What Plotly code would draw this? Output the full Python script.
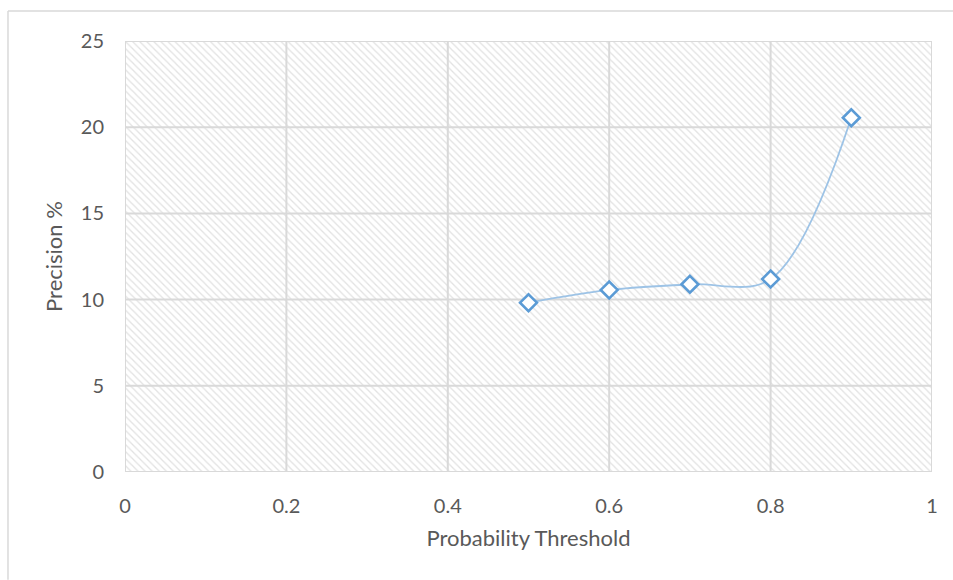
import plotly.graph_objects as go

# Precision at each probability threshold
thresholds = [0.5, 0.6, 0.7, 0.8, 0.9]
precision = [9.82, 10.56, 10.89, 11.19, 20.55]

x_range = [0, 1]
y_range = [0, 25]
x_ticks = [0, 0.2, 0.4, 0.6, 0.8, 1]
x_tick_labels = ["0", "0.2", "0.4", "0.6", "0.8", "1"]
y_ticks = [0, 5, 10, 15, 20, 25]

grid_color = "#d9d9d9"
text_color = "#595959"
font_family = "Lato, 'Open Sans', sans-serif"

fig = go.Figure()

# Hatched plot-area background
fig.add_trace(go.Scatter(
    x=[x_range[0], x_range[1], x_range[1], x_range[0], x_range[0]],
    y=[y_range[0], y_range[0], y_range[1], y_range[1], y_range[0]],
    mode="none",
    fill="toself",
    fillcolor="rgba(255,255,255,0)",
    fillpattern=dict(shape="\\", size=5, solidity=0.25,
                     fgcolor="#e2e2e2", bgcolor="white", fillmode="replace"),
    hoverinfo="skip",
    showlegend=False,
))

# Gridlines on top of the hatch, beneath the data
gx, gy = [], []
for t in x_ticks:
    gx += [t, t, None]
    gy += [y_range[0], y_range[1], None]
for t in y_ticks:
    gx += [x_range[0], x_range[1], None]
    gy += [t, t, None]
fig.add_trace(go.Scatter(
    x=gx, y=gy, mode="lines",
    line=dict(color=grid_color, width=2),
    hoverinfo="skip", showlegend=False,
))

# Smoothed line with open diamond markers
fig.add_trace(go.Scatter(
    x=thresholds,
    y=precision,
    mode="lines",
    line=dict(color="#9dc3e6", width=1.8, shape="spline", smoothing=1.0),
    showlegend=False,
))
fig.add_trace(go.Scatter(
    x=thresholds,
    y=precision,
    mode="markers",
    marker=dict(symbol="diamond", size=13, color="white",
                line=dict(color="#5b9bd5", width=2.6)),
    showlegend=False,
))

axis_common = dict(
    showgrid=False,
    zeroline=False,
    showline=False,
    ticks="",
    tickfont=dict(family=font_family, size=20, color=text_color),
)

fig.update_layout(
    width=953,
    height=580,
    margin=dict(l=125, r=21, t=41, b=108),
    paper_bgcolor="white",
    plot_bgcolor="white",
    font=dict(family=font_family, color=text_color),
    xaxis=dict(
        range=x_range,
        tickvals=x_ticks,
        ticktext=x_tick_labels,
        ticklabelstandoff=20,
        title=dict(text="Probability Threshold",
                   font=dict(size=22, color=text_color), standoff=14),
        **axis_common,
    ),
    yaxis=dict(
        range=y_range,
        tickvals=y_ticks,
        ticklabelstandoff=20,
        title=dict(text="Precision %",
                   font=dict(size=22, color=text_color), standoff=12),
        **axis_common,
    ),
    shapes=[
        # outer chart frame (left and top edges visible)
        dict(type="line", xref="paper", yref="paper",
             x0=-0.145, x1=-0.145, y0=1.0696, y1=-0.25,
             line=dict(color=grid_color, width=1.5)),
        dict(type="line", xref="paper", yref="paper",
             x0=-0.145, x1=1.1, y0=1.0696, y1=1.0696,
             line=dict(color=grid_color, width=1.5)),
    ],
)

fig.write_html("out.html")
